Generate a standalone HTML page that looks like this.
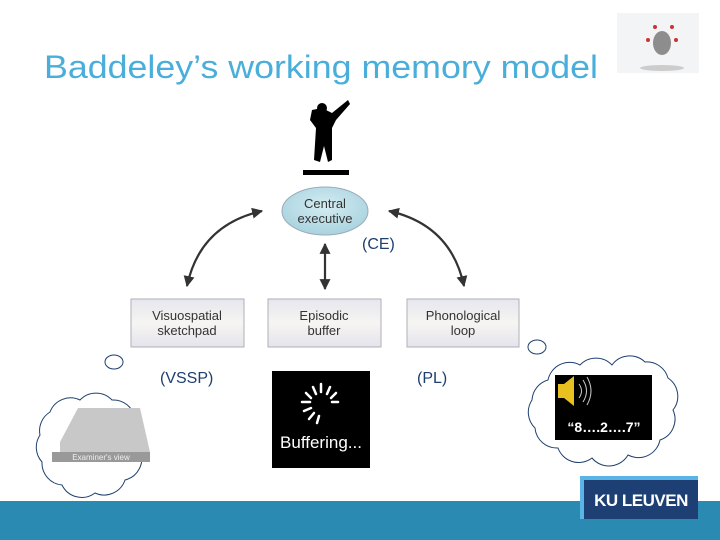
<!DOCTYPE html>
<html><head><meta charset="utf-8"><style>
html,body{margin:0;padding:0;background:#fff;}
svg{display:block;font-family:"Liberation Sans",sans-serif;}
</style></head><body>
<svg width="720" height="540" viewBox="0 0 720 540" xmlns="http://www.w3.org/2000/svg">
<defs>
<linearGradient id="bx" x1="0" y1="0" x2="0" y2="1"><stop offset="0" stop-color="#e6e6ee"/><stop offset="0.5" stop-color="#f6f5f2"/><stop offset="1" stop-color="#e4e4ec"/></linearGradient>
<radialGradient id="el" cx="0.5" cy="0.4" r="0.6"><stop offset="0" stop-color="#d4ecf2"/><stop offset="1" stop-color="#a9d3df"/></radialGradient>
<marker id="ah" viewBox="0 0 10 10" refX="9" refY="5" markerWidth="5" markerHeight="5" orient="auto-start-reverse"><path d="M0,0 L10,5 L0,10 z" fill="#333"/></marker>
</defs>
<text x="44" y="78" font-size="32" fill="#4aaedb" textLength="554" lengthAdjust="spacingAndGlyphs">Baddeley’s working memory model</text>
<rect x="617" y="13" width="82" height="60" fill="#f3f4f6"/>
<ellipse cx="662" cy="43" rx="9" ry="12" fill="#8d8d8d"/>
<circle cx="655" cy="27" r="2" fill="#c33"/><circle cx="672" cy="27" r="2" fill="#c33"/><circle cx="648" cy="40" r="2" fill="#c33"/><circle cx="676" cy="40" r="2" fill="#c33"/>
<ellipse cx="662" cy="68" rx="22" ry="3" fill="#ccc"/>
<path d="M312,110 L322,108 L332,113 L348,100 L350,104 L336,120 L332,128 L332,160 L328,162 L324,146 L320,162 L314,160 L316,128 L310,120 Z" fill="#000"/>
<circle cx="322" cy="108" r="5" fill="#000"/>
<rect x="303" y="170" width="46" height="5" fill="#000"/>
<path d="M187,286 Q200,225 262,211" fill="none" stroke="#333" stroke-width="2.2" marker-start="url(#ah)" marker-end="url(#ah)"/>
<path d="M464,286 Q451,225 389,211" fill="none" stroke="#333" stroke-width="2.2" marker-start="url(#ah)" marker-end="url(#ah)"/>
<line x1="325" y1="244" x2="325" y2="289" stroke="#333" stroke-width="2.2" marker-start="url(#ah)" marker-end="url(#ah)"/>
<ellipse cx="325" cy="211" rx="43" ry="24" fill="url(#el)" stroke="#9ab" stroke-width="1"/>
<text x="325" y="208" font-size="13" text-anchor="middle" fill="#333">Central</text>
<text x="325" y="223" font-size="13" text-anchor="middle" fill="#333">executive</text>
<g font-size="13" text-anchor="middle" fill="#333">
<rect x="131" y="299" width="113" height="48" fill="url(#bx)" stroke="#b0b0b8"/>
<text x="187" y="320">Visuospatial</text><text x="187" y="335">sketchpad</text>
<rect x="268" y="299" width="113" height="48" fill="url(#bx)" stroke="#b0b0b8"/>
<text x="324" y="320">Episodic</text><text x="324" y="335">buffer</text>
<rect x="407" y="299" width="112" height="48" fill="url(#bx)" stroke="#b0b0b8"/>
<text x="463" y="320">Phonological</text><text x="463" y="335">loop</text>
</g>
<g font-size="16" fill="#1e3f6e">
<text x="362" y="249">(CE)</text>
<text x="160" y="383">(VSSP)</text>
<text x="417" y="383">(PL)</text>
</g>
<g fill="none" stroke="#1e3f6e" stroke-width="1">
<path d="M50,412 A22,22 0 0 1 80,400 A22,22 0 0 1 112,400 A22,22 0 0 1 135,418 A22,22 0 0 1 140,450 A22,22 0 0 1 125,480 A22,22 0 0 1 95,493 A22,22 0 0 1 62,485 A22,22 0 0 1 42,462 A22,22 0 0 1 40,435 A22,22 0 0 1 50,412 Z"/>
<ellipse cx="114" cy="362" rx="9" ry="7"/>
<path d="M548,380 A22,22 0 0 1 580,365 A22,22 0 0 1 612,365 A22,22 0 0 1 645,362 A22,22 0 0 1 668,378 A22,22 0 0 1 673,410 A22,22 0 0 1 660,440 A22,22 0 0 1 628,455 A22,22 0 0 1 592,458 A22,22 0 0 1 558,448 A22,22 0 0 1 535,428 A22,22 0 0 1 532,400 A22,22 0 0 1 548,380 Z"/>
<ellipse cx="537" cy="347" rx="9" ry="7"/>
</g>
<polygon points="60,442 78,408 140,408 150,452 60,452" fill="#c8c8c8"/>
<rect x="52" y="452" width="98" height="10" fill="#999"/>
<text x="101" y="460" font-size="8" fill="#eee" text-anchor="middle">Examiner's view</text>
<rect x="272" y="371" width="98" height="97" fill="#000"/>
<g stroke="#fff" stroke-width="2.5" stroke-linecap="round">
<line x1="321" y1="384" x2="321" y2="392"/><line x1="330" y1="387" x2="327" y2="394"/><line x1="336" y1="393" x2="331" y2="398"/><line x1="338" y1="402" x2="332" y2="402"/>
<line x1="313" y1="387" x2="316" y2="394"/><line x1="306" y1="393" x2="311" y2="398"/><line x1="302" y1="402" x2="310" y2="402"/><line x1="304" y1="411" x2="311" y2="408"/><line x1="309" y1="419" x2="314" y2="413"/><line x1="317" y1="423" x2="319" y2="416"/>
</g>
<text x="321" y="448" font-size="17" fill="#fff" text-anchor="middle">Buffering...</text>
<rect x="555" y="375" width="97" height="65" fill="#000"/>
<path d="M558,384 L564,384 L574,376 L574,406 L564,398 L558,398 Z" fill="#e8c020"/>
<path d="M579,384 Q584,391 579,398 M583,380 Q590,391 583,402 M587,377 Q595,391 587,405" stroke="#ccc" fill="none"/>
<text x="604" y="432" font-size="14" font-weight="bold" fill="#fff" text-anchor="middle">“8….2….7”</text>
<rect x="0" y="501" width="720" height="39" fill="#2a8ab1"/>
<rect x="580" y="476" width="118" height="43" fill="#5ab4e6"/>
<rect x="584" y="480" width="114" height="39" fill="#1d3f73"/>
<text x="641" y="506" font-size="17" font-weight="bold" fill="#fff" text-anchor="middle" letter-spacing="-0.5">KU LEUVEN</text>
</svg>
</body></html>
